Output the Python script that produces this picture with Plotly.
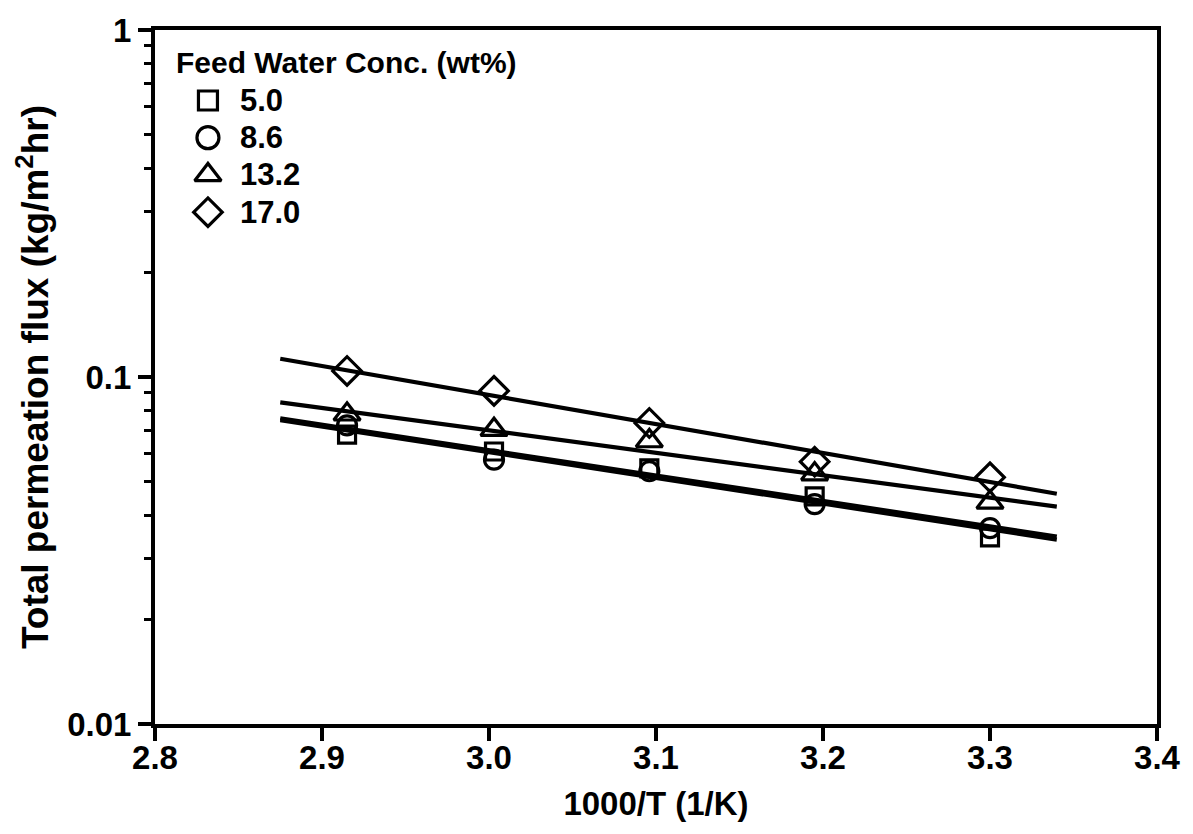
import plotly.graph_objects as go

# Inverse temperature, 1000/T (1/K)
inv_T = [2.915, 3.003, 3.096, 3.195, 3.300]

# Total permeation flux (kg/m^2 hr) for each feed water concentration
flux_5_0 = [0.0682, 0.0610, 0.0545, 0.0453, 0.0345]
flux_8_6 = [0.0725, 0.0578, 0.0535, 0.0430, 0.0367]
flux_13_2 = [0.0781, 0.0705, 0.0654, 0.0525, 0.0435]
flux_17_0 = [0.1041, 0.0912, 0.0737, 0.0570, 0.0514]

# Arrhenius fit lines (end points)
fit_x = [2.875, 3.34]
fit_5_0 = [0.0751, 0.0340]
fit_8_6 = [0.0760, 0.0347]
fit_13_2 = [0.0845, 0.0423]
fit_17_0 = [0.1129, 0.0461]

conc_labels = ["5.0", "8.6", "13.2", "17.0"]
legend_title = "Feed Water Conc. (wt%)"

x_ticks = [2.8, 2.9, 3.0, 3.1, 3.2, 3.3, 3.4]
y_ticks = [0.01, 0.1, 1]
y_ticktext = ["0.01", "0.1", "1"]

FONT = "Liberation Sans, Arial, sans-serif"
series = [
    (flux_5_0, fit_5_0, "square-open", 17),
    (flux_8_6, fit_8_6, "circle-open", 19),
    (flux_13_2, fit_13_2, "triangle-up-open", 23),
    (flux_17_0, fit_17_0, "diamond-open", 22),
]

fig = go.Figure()

for flux, fit, sym, size in series:
    fig.add_trace(go.Scatter(
        x=fit_x, y=fit, mode="lines",
        line=dict(color="black", width=4.2),
        showlegend=False, hoverinfo="skip",
    ))

for (flux, fit, sym, size), lab in zip(series, conc_labels):
    fig.add_trace(go.Scatter(
        x=inv_T, y=flux, mode="markers", name=lab,
        marker=dict(symbol=sym, size=size, color="black",
                    line=dict(color="black", width=3.2)),
        showlegend=False,
    ))

# Legend block drawn on a hidden overlay axis measured in pixels
PL, PR, PT, PB = 155, 1158, 25, 724
leg_sym_x = 208
leg_text_x = 238
leg_row0 = 96
leg_step = 37.5
leg_sizes = [19, 22, 23, 22]
for i, ((flux, fit, sym, size), lab) in enumerate(zip(series, conc_labels)):
    yy = leg_row0 + i * leg_step
    fig.add_trace(go.Scatter(
        x=[leg_sym_x], y=[yy], xaxis="x2", yaxis="y2", mode="markers",
        marker=dict(symbol=sym, size=leg_sizes[i], color="black",
                    line=dict(color="black", width=3.2)),
        showlegend=False, hoverinfo="skip",
    ))
    fig.add_annotation(
        x=leg_text_x, y=yy, xref="x2", yref="y2", text=lab,
        showarrow=False, xanchor="left", yanchor="middle",
        font=dict(family=FONT, size=31, color="black", weight="bold"),
    )
fig.add_annotation(
    x=174, y=58, xref="x2", yref="y2", text=legend_title,
    showarrow=False, xanchor="left", yanchor="middle",
    font=dict(family=FONT, size=30, color="black", weight="bold"),
)

axis_font = dict(family=FONT, size=33, color="black", weight="bold")
ytitle_font = dict(family=FONT, size=37, color="black", weight="bold")

fig.update_layout(
    width=1193, height=834,
    margin=dict(l=PL, r=1193 - PR, t=PT, b=834 - PB),
    plot_bgcolor="white", paper_bgcolor="white",
    showlegend=False,
    xaxis=dict(
        range=[2.8, 3.4], tickvals=x_ticks, tickformat=".1f",
        ticks="outside", ticklen=13, tickwidth=3.5, tickcolor="black",
        ticklabelstandoff=-12,
        showline=True, linewidth=4, linecolor="black", mirror=True,
        showgrid=False, zeroline=False, tickfont=axis_font,
        title=dict(text="1000/T (1/K)", font=axis_font, standoff=18),
    ),
    yaxis=dict(
        type="log", range=[-2, 0], tickvals=y_ticks, ticktext=y_ticktext,
        ticks="outside", ticklen=13, tickwidth=3.5, tickcolor="black",
        showline=True, linewidth=4, linecolor="black", mirror=True,
        showgrid=False, zeroline=False, tickfont=axis_font,
        minor=dict(ticks="outside", ticklen=7, tickwidth=3,
                   tickcolor="black", dtick="D1", showgrid=False),
        title=dict(text="Total permeation flux (kg/m<sup>2</sup>hr)",
                   font=ytitle_font, standoff=8),
    ),
    xaxis2=dict(overlaying="x", range=[PL, PR], visible=False,
                fixedrange=True),
    yaxis2=dict(overlaying="y", range=[PB, PT], visible=False,
                fixedrange=True),
)

fig.write_html("out.html")
